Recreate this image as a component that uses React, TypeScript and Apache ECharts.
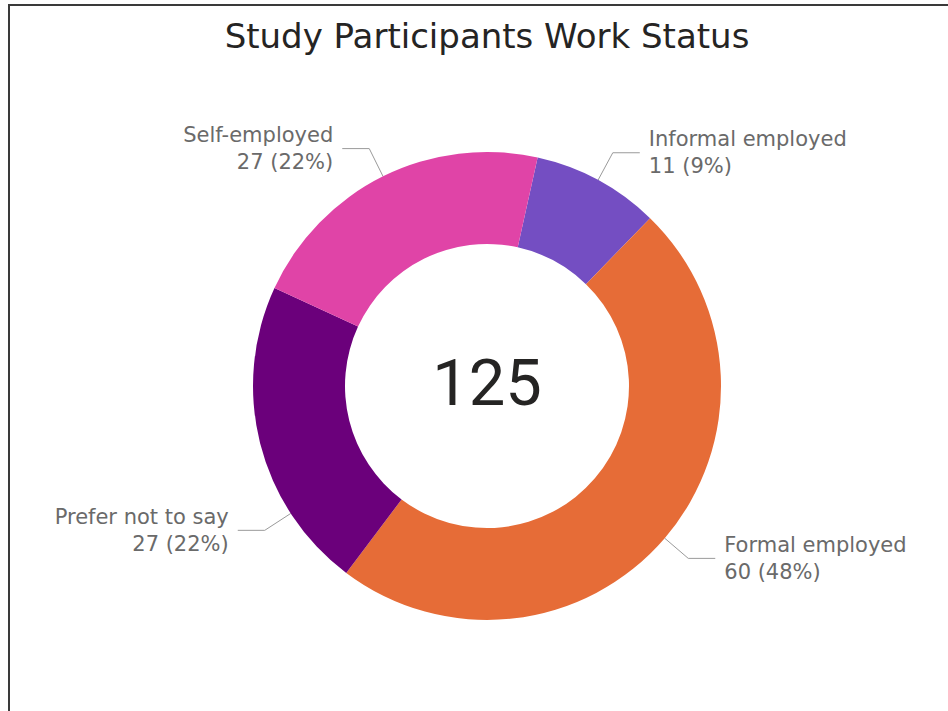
import React, { useEffect, useRef } from "react";
import * as echarts from "echarts";

const categories = ["Informal employed", "Formal employed", "Prefer not to say", "Self-employed"];
const values = [11, 60, 27, 27];
const colors = ["#744EC2", "#E66C37", "#6B007B", "#E044A7"];
const titleText = "Study Participants Work Status";

export default function App() {
  const ref = useRef<HTMLDivElement>(null);
  useEffect(() => {
    document.body.style.margin = "0";
    const chart = echarts.init(ref.current!, null, { renderer: "svg" });
    const total = values.reduce((a, b) => a + b, 0);
    const CX = 487;
    const CY = 386;
    const R_IN = 142;
    const R_OUT = 234;
    const LEN = 31;
    const LEN2 = 27;
    const GAP = 9;
    const overrideAngle: Record<number, number> = { 2: 237 };

    chart.setOption({
      animation: false,
      backgroundColor: "#ffffff",
      graphic: [
        {
          type: "polyline",
          shape: { points: [[9, 711], [9, 5], [948, 5]] },
          style: { stroke: "#3a3a3a", lineWidth: 2, fill: null },
          silent: true,
        },
        {
          type: "text",
          x: CX,
          y: 36,
          style: {
            text: titleText,
            font: "34px 'DejaVu Sans'",
            fill: "#252423",
            textAlign: "center",
            align: "center",
            textVerticalAlign: "middle",
            verticalAlign: "middle",
          },
        },
        {
          type: "text",
          x: CX,
          y: CY - 3,
          style: {
            text: String(total),
            font: "65px Roboto",
            fill: "#252423",
            textAlign: "center",
            align: "center",
            textVerticalAlign: "middle",
            verticalAlign: "middle",
          },
        },
      ],
      series: [
        {
          type: "pie",
          center: [CX, CY],
          radius: [R_IN, R_OUT],
          startAngle: 77.5,
          clockwise: true,
          avoidLabelOverlap: false,
          data: categories.map((c, i) => ({ name: c, value: values[i], itemStyle: { color: colors[i] } })),
          label: {
            show: true,
            position: "outside",
            formatter: (p: any) => `${p.name}\n${p.value} (${Math.round((p.value / total) * 100)}%)`,
            color: "#6a6a6a",
            fontFamily: "DejaVu Sans",
            fontSize: 21,
            lineHeight: 27,
            distanceToLabelLine: GAP,
          },
          labelLine: {
            show: true,
            length: LEN,
            length2: LEN2,
            lineStyle: { color: "#9a9a9a", width: 1 },
          },
          labelLayout: (params: any) => {
            const ang = overrideAngle[params.dataIndex];
            if (ang === undefined) return {};
            const a = (ang * Math.PI) / 180;
            const sx = Math.sin(a);
            const sy = -Math.cos(a);
            const p1 = [CX + R_OUT * sx, CY + R_OUT * sy];
            const p2 = [CX + (R_OUT + LEN) * sx, CY + (R_OUT + LEN) * sy];
            const p3 = [p2[0] - LEN2, p2[1]];
            return {
              x: p3[0] - GAP,
              y: p3[1],
              align: "right",
              verticalAlign: "middle",
              labelLinePoints: [p1, p2, p3],
            };
          },
        },
      ],
    });
    return () => chart.dispose();
  }, []);
  return <div ref={ref} style={{ position: "fixed", left: 0, top: 0, width: "948px", height: "711px" }} />;
}
